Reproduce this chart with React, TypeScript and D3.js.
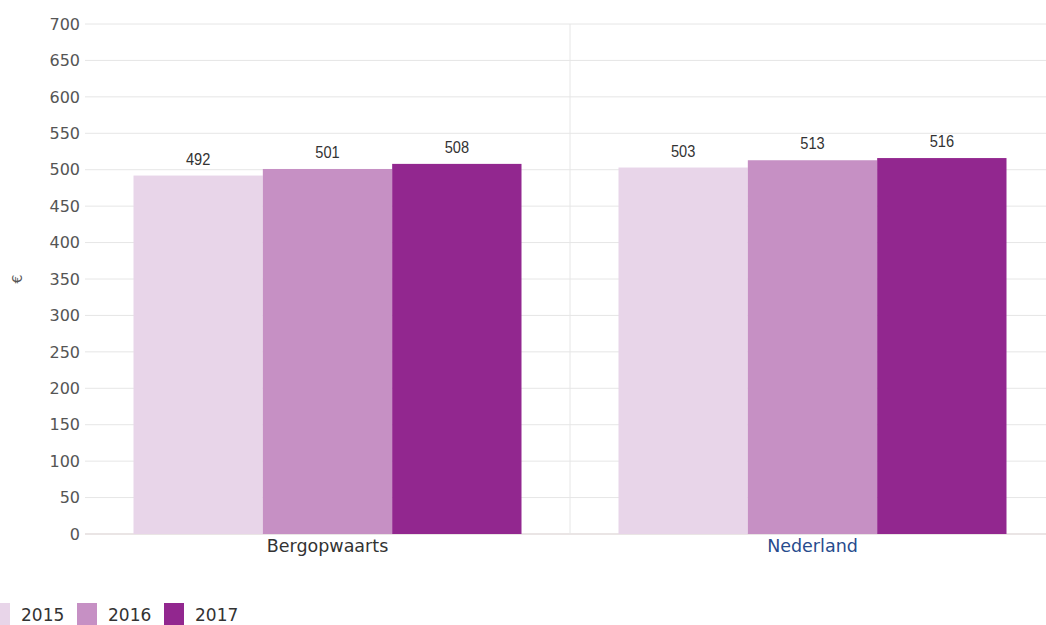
import React from "react";
import * as d3 from "d3";

const categories = ["Bergopwaarts", "Nederland"];
const seriesNames = ["2015", "2016", "2017"];
const values2015 = [492, 503];
const values2016 = [501, 513];
const values2017 = [508, 516];
const yTicks = [0, 50, 100, 150, 200, 250, 300, 350, 400, 450, 500, 550, 600, 650, 700];
const colors = ["#E8D5E9", "#C690C4", "#92278F"];

const W = 1046;
const H = 625;
const margin = { left: 85, right: -9, top: 24, bottom: 91 };

export default function App() {
  const series = [values2015, values2016, values2017];
  const x0 = d3.scaleBand().domain(categories).range([margin.left, W - margin.right]).paddingInner(0).paddingOuter(0);
  const x1 = d3.scaleBand().domain(seriesNames).range([0, x0.bandwidth()]).paddingOuter(0.375).paddingInner(0);
  const y = d3.scaleLinear().domain([0, 700]).range([H - margin.bottom, margin.top]);
  const axisFont = "Verdana, 'DejaVu Sans', sans-serif";
  const labelFont = "'Liberation Sans', Arial, sans-serif";

  return (
    <svg width={W} height={H} style={{ position: "absolute", left: 0, top: 0, background: "#fff", overflow: "hidden" }}>
      {yTicks.map((t) => (
        <g key={t}>
          <line x1={margin.left} x2={W - margin.right} y1={y(t)} y2={y(t)} stroke={t === 0 ? "#e3dcdc" : "#e6e6e6"} strokeWidth={t === 0 ? 1.5 : 1} />
          <text x={80} y={y(t)} dy="0.36em" textAnchor="end" fontFamily={axisFont} fontSize={16} fill="#555">
            {t}
          </text>
        </g>
      ))}
      {categories.slice(1).map((c) => (
        <line key={c} x1={x0(c)!} x2={x0(c)!} y1={margin.top} y2={H - margin.bottom} stroke="#e6e6e6" />
      ))}
      <text transform={`translate(22,${y(350)}) rotate(-90)`} textAnchor="middle" fontFamily={axisFont} fontSize={14} fill="#555">
        €
      </text>
      {categories.map((c, ci) => (
        <g key={c}>
          {series.map((s, si) => {
            const bx = x0(c)! + x1(seriesNames[si])!;
            const bw = x1.bandwidth();
            return (
              <g key={si}>
                <rect x={bx} y={y(s[ci])} width={bw} height={y(0) - y(s[ci])} fill={colors[si]} />
                <text transform={`translate(${bx + bw / 2},${y(s[ci]) - 11}) scale(0.86,1)`} textAnchor="middle" fontFamily={labelFont} fontSize={17} fill="#333">
                  {s[ci]}
                </text>
              </g>
            );
          })}
          <text x={x0(c)! + x0.bandwidth() / 2} y={y(0) + 18} textAnchor="middle" fontFamily={axisFont} fontSize={17.5} fill={ci === 1 ? "#274b8d" : "#333"}>
            {c}
          </text>
        </g>
      ))}
      {seriesNames.map((n, i) => (
        <g key={n} transform={`translate(${-10 + i * 87},603)`}>
          <rect x={0} y={0} width={20} height={22} fill={colors[i]} />
          <text x={31} y={18} fontFamily={axisFont} fontSize={17} fill="#333">
            {n}
          </text>
        </g>
      ))}
    </svg>
  );
}
